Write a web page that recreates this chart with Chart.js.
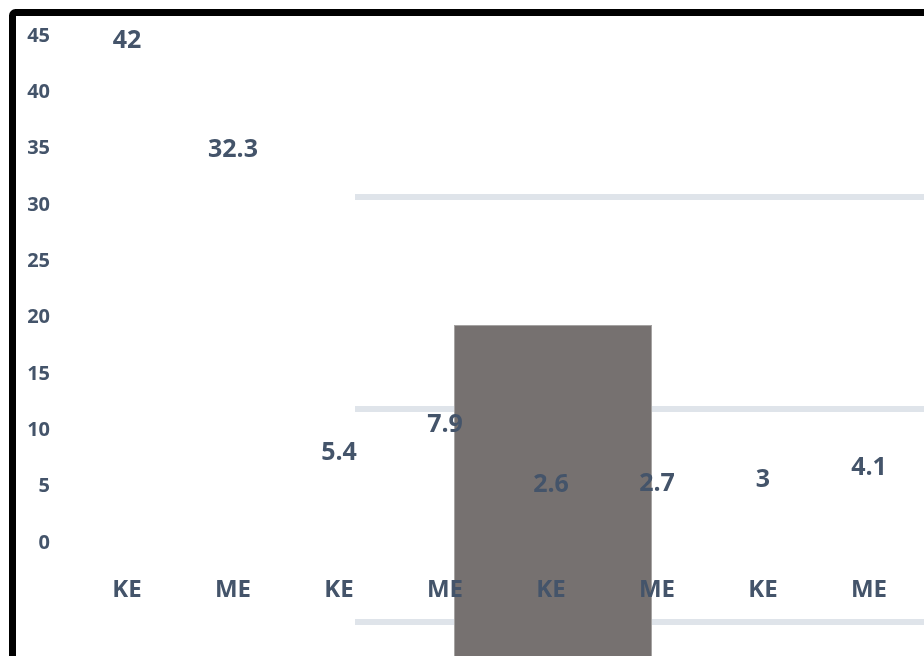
<!DOCTYPE html>
<html>
<head>
<meta charset="utf-8">
<script src="https://cdn.jsdelivr.net/npm/chart.js@4/dist/chart.umd.min.js"></script>
<style>
  html, body { margin: 0; padding: 0; background: #ffffff; }
  #wrap { width: 924px; height: 656px; position: relative; }
</style>
</head>
<body>
<div id="wrap"><canvas id="c" width="924" height="656"></canvas></div>
<script>
const categories = ['KE', 'ME', 'KE', 'ME', 'KE', 'ME', 'KE', 'ME'];
const values = [42, 32.3, 5.4, 7.9, 2.6, 2.7, 3, 4.1];
const yTicks = [0, 5, 10, 15, 20, 25, 30, 35, 40, 45];

const TEXT = '#44546A';
const FONT = "'Open Sans', 'Liberation Sans', sans-serif";

const decoPlugin = {
  id: 'deco',
  beforeDraw(chart) {
    const ctx = chart.ctx;
    ctx.save();
    ctx.fillStyle = '#ffffff';
    ctx.fillRect(0, 0, chart.width, chart.height);
    // light horizontal bands
    ctx.fillStyle = '#dfe4ea';
    [194, 406, 619].forEach(y => ctx.fillRect(355, y, chart.width - 355, 6));
    // grey block
    ctx.fillStyle = '#767170';
    ctx.fillRect(454, 325, 198, chart.height - 325);
    ctx.strokeStyle = '#a5a3a2';
    ctx.lineWidth = 1;
    ctx.strokeRect(454.5, 325.5, 197, chart.height);
    // black frame
    ctx.strokeStyle = '#000000';
    ctx.lineWidth = 7;
    ctx.lineJoin = 'round';
    ctx.beginPath();
    if (ctx.roundRect) ctx.roundRect(12.5, 12.5, chart.width + 40, chart.height + 40, 3);
    else ctx.rect(12.5, 12.5, chart.width + 40, chart.height + 40);
    ctx.stroke();
    ctx.restore();
  }
};

const labelPlugin = {
  id: 'vlabels',
  afterDatasetsDraw(chart) {
    const ctx = chart.ctx;
    const meta = chart.getDatasetMeta(0);
    ctx.save();
    ctx.fillStyle = TEXT;
    ctx.font = "bold 25px " + FONT;
    ctx.textAlign = 'center';
    ctx.textBaseline = 'middle';
    meta.data.forEach((el, i) => {
      ctx.fillText(String(values[i]), el.x, el.y - 29);
    });
    ctx.restore();
  }
};

new Chart(document.getElementById('c'), {
  type: 'bar',
  data: {
    labels: categories,
    datasets: [{
      data: values,
      backgroundColor: 'rgba(0,0,0,0)',
      borderWidth: 0
    }]
  },
  options: {
    responsive: false,
    animation: false,
    devicePixelRatio: 1,
    layout: { padding: { top: 33, right: 2, bottom: 0, left: 0 } },
    plugins: { legend: { display: false }, tooltip: { enabled: false } },
    scales: {
      x: {
        grid: { display: false, drawTicks: false },
        border: { display: false },
        ticks: {
          color: TEXT,
          font: { family: FONT, size: 24, weight: 'bold' },
          padding: 33,
          maxRotation: 0,
          autoSkip: false
        },
        afterFit(s) { s.height = 656 - 543; }
      },
      y: {
        min: 0,
        max: 45,
        afterBuildTicks(s) { s.ticks = yTicks.map(v => ({ value: v })); },
        grid: { display: false, drawTicks: false },
        border: { display: false },
        ticks: {
          color: TEXT,
          font: { family: FONT, size: 20, weight: 'bold' },
          padding: 24
        },
        afterFit(s) { s.width = 74; }
      }
    }
  },
  plugins: [decoPlugin, labelPlugin]
});
</script>
</body>
</html>
